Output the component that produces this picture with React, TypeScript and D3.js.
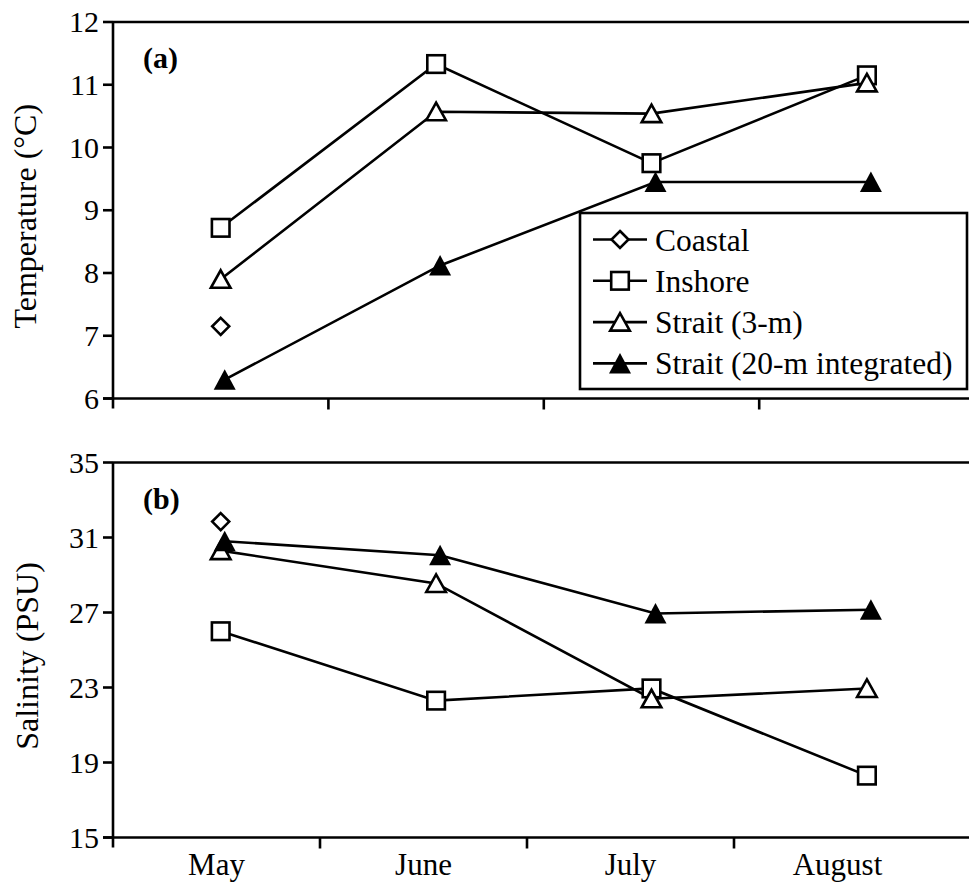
import React from 'react';
import * as d3 from 'd3';

// months on the x axis
const months = ['May', 'June', 'July', 'August'];
const seriesNames = ['Coastal', 'Inshore', 'Strait (3-m)', 'Strait (20-m integrated)'];

// (a) temperature, °C
const tempCoastal = [7.15, null, null, null];
const tempInshore = [8.72, 11.33, 9.75, 11.15];
const tempStrait3 = [7.9, 10.57, 10.54, 11.03];
const tempStrait20 = [6.3, 8.12, 9.45, 9.45];

// (b) salinity, PSU
const salCoastal = [31.85, null, null, null];
const salInshore = [26.0, 22.3, 22.95, 18.3];
const salStrait3 = [30.3, 28.55, 22.4, 22.95];
const salStrait20 = [30.8, 30.05, 26.95, 27.15];

const tempTicks = [6, 7, 8, 9, 10, 11, 12];
const salTicks = [15, 19, 23, 27, 31, 35];

type Marker = 'diamond' | 'square' | 'triangle' | 'triangleFilled';

// marker per series (same order as seriesNames); filled triangles sit a touch right
const markerKinds: Marker[] = ['diamond', 'square', 'triangle', 'triangleFilled'];
const markerDx = [0, 0, 0, 4];

const FONT = "'Liberation Serif', 'Times New Roman', serif";
const W = 969;
const H = 884;
const LEFT = 113;
const SW = 2.6;

const renderMarker = (kind: Marker, x: number, y: number, key: string | number) => {
  switch (kind) {
    case 'diamond':
      return <path key={key} d={`M${x},${y - 8.5}L${x + 8.5},${y}L${x},${y + 8.5}L${x - 8.5},${y}Z`}
        fill="#fff" stroke="#000" strokeWidth={SW} />;
    case 'square':
      return <rect key={key} x={x - 8.8} y={y - 8.8} width={17.6} height={17.6}
        fill="#fff" stroke="#000" strokeWidth={SW} />;
    case 'triangle':
      return <path key={key} d={`M${x},${y - 9}L${x + 9.8},${y + 8.5}L${x - 9.8},${y + 8.5}Z`}
        fill="#fff" stroke="#000" strokeWidth={SW} strokeLinejoin="miter" />;
    default:
      return <path key={key} d={`M${x},${y - 10.5}L${x + 11},${y + 10}L${x - 11},${y + 10}Z`}
        fill="#000" stroke="none" />;
  }
};

interface PanelProps {
  top: number;
  bottom: number;
  domain: [number, number];
  ticks: number[];
  series: (number | null)[][];
  tag: string;
  title: string;
  titleX: number;
  xAxisEnd: number;
  showLabels: boolean;
  children?: React.ReactNode;
}

// point positions are shared by both panels
const xPoints = d3.scaleBand<string>().domain(months).range([LEFT, 974.6]);

const Panel: React.FC<PanelProps> = ({
  top, bottom, domain, ticks, series, tag, title, titleX, xAxisEnd, showLabels, children
}) => {
  const y = d3.scaleLinear().domain(domain).range([bottom, top]);
  const xAxis = d3.scaleBand<string>().domain(months).range([LEFT, xAxisEnd]);
  const cx = (m: string) => (xPoints(m) || 0) + xPoints.bandwidth() / 2;

  const line = d3.line<{ m: string; v: number | null }>()
    .defined(d => d.v !== null)
    .x(d => cx(d.m))
    .y(d => y(d.v as number));

  return (
    <g>
      {/* frame top, y axis, x axis */}
      <line x1={LEFT} x2={W} y1={top} y2={top} stroke="#000" strokeWidth={SW} />
      <line x1={LEFT} x2={LEFT} y1={top} y2={bottom + 10} stroke="#000" strokeWidth={SW} />
      <line x1={LEFT - 10} x2={W} y1={bottom} y2={bottom} stroke="#000" strokeWidth={SW} />

      {ticks.map(t => (
        <g key={t}>
          <line x1={LEFT - 10} x2={LEFT} y1={y(t)} y2={y(t)} stroke="#000" strokeWidth={SW} />
          <text x={99} y={y(t) + 10} textAnchor="end" fontSize={30} fontFamily={FONT}>{t}</text>
        </g>
      ))}

      {months.map((m, i) => (
        <g key={m}>
          {i > 0 && (
            <line x1={xAxis(m)} x2={xAxis(m)} y1={bottom} y2={bottom + 11} stroke="#000" strokeWidth={SW} />
          )}
          {showLabels && (
            <text x={(xAxis(m) || 0) + xAxis.bandwidth() / 2} y={bottom + 37} textAnchor="middle"
              fontSize={31} fontFamily={FONT}>{m}</text>
          )}
        </g>
      ))}

      <text transform={`translate(${titleX},${(top + bottom) / 2 + 6}) rotate(-90)`} textAnchor="middle"
        fontSize={32} fontFamily={FONT}>{title}</text>
      <text x={LEFT + 30} y={top + 46} fontSize={30} fontWeight="bold" fontFamily={FONT}>{tag}</text>

      {series.map((vals, si) => (
        <path key={si} d={line(months.map((m, i) => ({ m, v: vals[i] }))) || ''}
          fill="none" stroke="#000" strokeWidth={SW} transform={`translate(${markerDx[si]},0)`} />
      ))}
      {series.map((vals, si) =>
        vals.map((v, i) => v === null ? null :
          renderMarker(markerKinds[si], cx(months[i]) + markerDx[si], y(v), `${si}-${i}`))
      )}
      {children}
    </g>
  );
};

const Legend: React.FC = () => {
  const x0 = 580, y0 = 213, w = 387, h = 176;
  return (
    <g>
      <rect x={x0} y={y0} width={w} height={h} fill="#fff" stroke="#000" strokeWidth={SW} />
      {seriesNames.map((name, i) => {
        const ry = 239.5 + i * 41.3;
        return (
          <g key={name}>
            <line x1={593} x2={647} y1={ry} y2={ry} stroke="#000" strokeWidth={SW} />
            {renderMarker(markerKinds[i], 620, ry, name)}
            <text x={655} y={ry + 11} fontSize={31.5} fontFamily={FONT}>{name}</text>
          </g>
        );
      })}
    </g>
  );
};

export default function App() {
  return (
    <svg width={W} height={H} style={{ position: 'absolute', left: 0, top: 0, background: '#fff' }}>
      <rect width={W} height={H} fill="#fff" />
      <Panel top={22} bottom={398.5} domain={[6, 12]} ticks={tempTicks}
        series={[tempCoastal, tempInshore, tempStrait3, tempStrait20]}
        tag="(a)" title="Temperature (°C)" titleX={36} xAxisEnd={974.6} showLabels={false}>
        <Legend />
      </Panel>
      <Panel top={462.5} bottom={837.5} domain={[15, 35]} ticks={salTicks}
        series={[salCoastal, salInshore, salStrait3, salStrait20]}
        tag="(b)" title="Salinity (PSU)" titleX={38} xAxisEnd={941} showLabels={true} />
    </svg>
  );
}
